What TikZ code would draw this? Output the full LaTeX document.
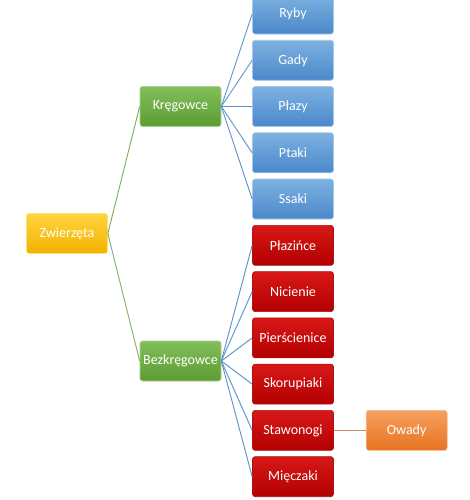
\documentclass[tikz,border=0pt]{standalone}
\usepackage{fontspec}
\setmainfont{Carlito}
\usetikzlibrary{positioning}
\definecolor{yelTop}{HTML}{FFD43F}
\definecolor{yelBot}{HTML}{F2B200}
\definecolor{grnTop}{HTML}{82BE5A}
\definecolor{grnBot}{HTML}{5C9C33}
\definecolor{bluTop}{HTML}{7DB1E1}
\definecolor{bluBot}{HTML}{4B88CA}
\definecolor{redTop}{HTML}{D81818}
\definecolor{redBot}{HTML}{B30000}
\definecolor{orgTop}{HTML}{F7A060}
\definecolor{orgBot}{HTML}{E57420}
\definecolor{grnLine}{HTML}{7FB060}
\definecolor{bluLine}{HTML}{5E93C9}
\definecolor{orgLine}{HTML}{D08A5A}

\begin{document}
\begin{tikzpicture}[x=0.75pt, y=-0.75pt,
  font=\fontsize{10.5}{12}\selectfont,
  box/.style={draw, rounded corners=2pt, minimum width=60.75pt, minimum height=30pt,
    inner sep=1pt, align=center, text=white, line width=0.5pt},
  root/.style={box, top color=yelTop, bottom color=yelBot, draw=yelTop!70!white},
  group/.style={box, top color=grnTop, bottom color=grnBot, draw=grnTop!70!white},
  vert/.style={box, top color=bluTop, bottom color=bluBot, draw=bluTop!70!white},
  invert/.style={box, top color=redTop, bottom color=redBot, draw=redTop!80!black},
  extra/.style={box, top color=orgTop, bottom color=orgBot, draw=orgTop!70!white},
  link/.style={line width=0.7pt},
  node distance=4.2pt]
\useasboundingbox (0,0) rectangle (469,500);
\node[root] (zw) at (67,233.5) {Zwierzęta};
\node[group] (kr) at (180.5,106.5) {Kręgowce};
\node[group] (bk) at (180.5,361) {Bezkręgowce};
\node[vert] (ryby) at (293,14) {Ryby};
\node[vert, below=of ryby] (gady) {Gady};
\node[vert, below=of gady] (plazy) {Płazy};
\node[vert, below=of plazy] (ptaki) {Ptaki};
\node[vert, below=of ptaki] (ssaki) {Ssaki};
\node[invert, below=of ssaki] (plazince) {Płazińce};
\node[invert, below=of plazince] (nicienie) {Nicienie};
\node[invert, below=of nicienie] (pierscienice) {Pierścienice};
\node[invert, below=of pierscienice] (skorupiaki) {Skorupiaki};
\node[invert, below=of skorupiaki] (stawonogi) {Stawonogi};
\node[invert, below=of stawonogi] (mieczaki) {Mięczaki};
\node[extra, right=24pt of stawonogi] (owady) {Owady};
\draw[link, grnLine] (zw.east) -- (kr.west);
\draw[link, grnLine] (zw.east) -- (bk.west);
\foreach \n in {ryby,gady,plazy,ptaki,ssaki}
  \draw[link, bluLine] (kr.east) -- (\n.west);
\foreach \n in {plazince,nicienie,pierscienice,skorupiaki,stawonogi,mieczaki}
  \draw[link, bluLine] (bk.east) -- (\n.west);
\draw[link, orgLine] (stawonogi) -- (owady);
\end{tikzpicture}
\end{document}
